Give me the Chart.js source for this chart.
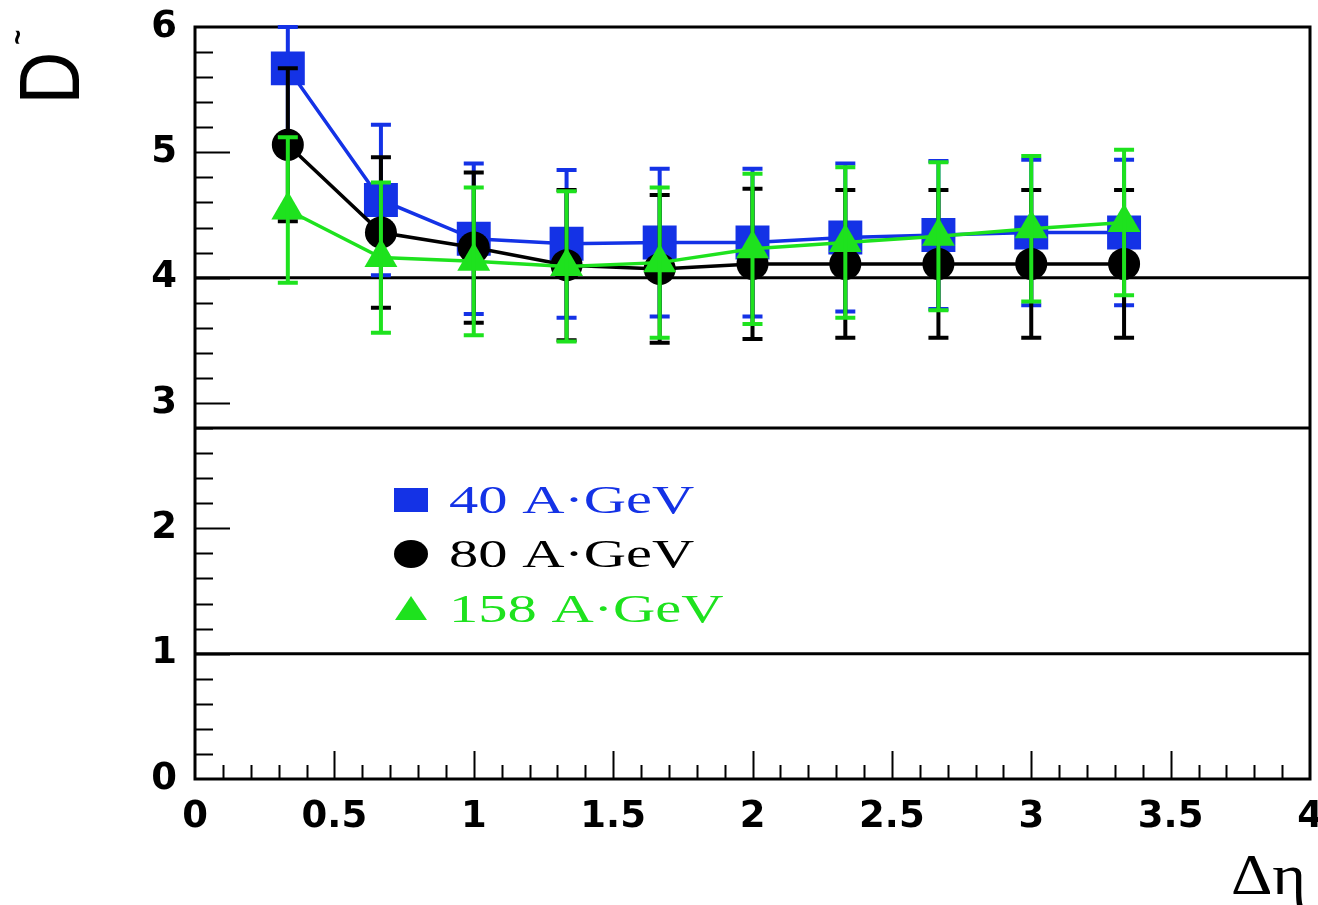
<!DOCTYPE html>
<html>
<head>
<meta charset="utf-8">
<script src="https://cdn.jsdelivr.net/npm/chart.js@4.4.1/dist/chart.umd.min.js"></script>
<style>
  html, body { margin: 0; padding: 0; background: #fff; }
  #wrap { width: 1318px; height: 905px; }
</style>
</head>
<body>
<div id="wrap"><canvas id="dChart" width="1318" height="905"></canvas></div>
<script>
// Δη window centres
const dEta = [0.333, 0.667, 1.0, 1.333, 1.667, 2.0, 2.333, 2.667, 3.0, 3.333];

const energyLabels = ['40 A·GeV', '80 A·GeV', '158 A·GeV'];

// D measure and its errors per energy
const d40    = [5.67, 4.62, 4.31, 4.27, 4.28, 4.28, 4.32, 4.34, 4.36, 4.36];
const err40  = [0.60, 0.60, 0.60, 0.59, 0.59, 0.59, 0.59, 0.59, 0.58, 0.58];
const d80    = [5.06, 4.36, 4.24, 4.10, 4.07, 4.11, 4.11, 4.11, 4.11, 4.11];
const err80  = [0.61, 0.60, 0.60, 0.60, 0.59, 0.60, 0.59, 0.59, 0.59, 0.59];
const d158   = [4.54, 4.16, 4.13, 4.09, 4.12, 4.23, 4.28, 4.33, 4.39, 4.44];
const err158 = [0.58, 0.60, 0.59, 0.60, 0.60, 0.60, 0.60, 0.59, 0.58, 0.58];

// horizontal reference levels
const refLevels = [4, 2.8, 1];

const xTicks = [0, 0.5, 1, 1.5, 2, 2.5, 3, 3.5, 4];
const yTicks = [0, 1, 2, 3, 4, 5, 6];

const BLUE = '#1432e6';
const BLACK = '#000000';
const GREEN = '#1ee21e';

function points(ys) {
  return dEta.map((x, i) => ({ x: x, y: ys[i] }));
}

// inward ticks + frame, ROOT style
const frameTicks = {
  id: 'frameTicks',
  beforeDatasetsDraw(chart) {
    const { ctx, chartArea: a, scales: { x, y } } = chart;
    ctx.save();
    ctx.strokeStyle = BLACK;
    ctx.lineWidth = 2;
    ctx.beginPath();
    for (let i = 1; i < 30; i++) {
      const py = Math.round(y.getPixelForValue(i * 0.2)) + 0.5;
      const len = i % 5 === 0 ? 35 : 18;
      ctx.moveTo(a.left, py);
      ctx.lineTo(a.left + len, py);
    }
    for (let i = 1; i < 40; i++) {
      const px = Math.round(x.getPixelForValue(i * 0.1)) + 0.5;
      const len = i % 5 === 0 ? 28 : 14;
      ctx.moveTo(px, a.bottom);
      ctx.lineTo(px, a.bottom - len);
    }
    ctx.stroke();
    ctx.lineWidth = 3;
    ctx.strokeRect(a.left, a.top, a.right - a.left, a.bottom - a.top);
    ctx.restore();
  }
};

const errorBars = {
  id: 'errorBars',
  afterDatasetDraw(chart, args) {
    const ds = chart.data.datasets[args.index];
    if (!ds.errors) return;
    const { ctx, scales: { x, y } } = chart;
    ctx.save();
    ctx.strokeStyle = ds.borderColor;
    ctx.lineWidth = 4;
    ds.data.forEach((p, i) => {
      const px = x.getPixelForValue(p.x);
      // keep the bar inside the frame
      const hi = Math.min(p.y + ds.errors[i], y.max);
      const lo = Math.max(p.y - ds.errors[i], y.min);
      const top = y.getPixelForValue(hi);
      const bot = y.getPixelForValue(lo);
      ctx.beginPath();
      ctx.moveTo(px, top); ctx.lineTo(px, bot);
      ctx.moveTo(px - 10, top); ctx.lineTo(px + 10, top);
      ctx.moveTo(px - 10, bot); ctx.lineTo(px + 10, bot);
      ctx.stroke();
    });
    ctx.restore();
  }
};

const legendAndTitles = {
  id: 'legendAndTitles',
  afterDraw(chart) {
    const ctx = chart.ctx;
    const series = chart.data.datasets.filter(d => d.errors);
    const rowY = [513, 567, 622];
    series.forEach((ds, i) => {
      const base = rowY[i];
      ctx.save();
      ctx.fillStyle = ds.borderColor;
      const cx = 411, cy = base - 13;
      ctx.beginPath();
      if (ds.pointStyle === 'rect') {
        ctx.rect(cx - 17, cy - 12, 34, 24);
      } else if (ds.pointStyle === 'circle') {
        ctx.ellipse(cx, cy, 17, 14, 0, 0, Math.PI * 2);
      } else {
        ctx.moveTo(cx, cy - 13);
        ctx.lineTo(cx + 16, cy + 11);
        ctx.lineTo(cx - 16, cy + 11);
        ctx.closePath();
      }
      ctx.fill();
      ctx.translate(449, base);
      ctx.scale(1.5, 1);
      ctx.font = '39px "Liberation Serif", "Times New Roman", serif';
      ctx.textAlign = 'left';
      ctx.textBaseline = 'alphabetic';
      ctx.fillText(ds.label, 0, 0);
      ctx.restore();
    });

    // x title
    ctx.save();
    ctx.fillStyle = BLACK;
    ctx.translate(1306, 894);
    ctx.scale(1.15, 1);
    ctx.font = '56px "Liberation Serif", "Times New Roman", serif';
    ctx.textAlign = 'right';
    ctx.textBaseline = 'alphabetic';
    ctx.fillText('Δη', 0, 0);
    ctx.restore();

    // y title, rotated
    ctx.save();
    ctx.fillStyle = BLACK;
    ctx.translate(48, 78);
    ctx.rotate(-Math.PI / 2);
    ctx.scale(0.85, 1);
    ctx.font = '86px "Liberation Sans", Arial, sans-serif';
    ctx.textAlign = 'center';
    ctx.textBaseline = 'alphabetic';
    ctx.fillText('D', 0, 31);
    ctx.font = 'bold 30px "Liberation Sans", Arial, sans-serif';
    ctx.fillText('~', 48, -20);
    ctx.restore();
  }
};

const seriesDatasets = [
  {
    label: energyLabels[0], data: points(d40), errors: err40,
    borderColor: BLUE, backgroundColor: BLUE, pointStyle: 'rect',
    pointRadius: 24, order: 3
  },
  {
    label: energyLabels[1], data: points(d80), errors: err80,
    borderColor: BLACK, backgroundColor: BLACK, pointStyle: 'circle',
    pointRadius: 16, order: 2
  },
  {
    label: energyLabels[2], data: points(d158), errors: err158,
    borderColor: GREEN, backgroundColor: GREEN, pointStyle: 'triangle',
    pointRadius: 19, order: 1
  }
].map(d => Object.assign({ showLine: true, borderWidth: 3.5, pointBorderWidth: 0, pointHoverRadius: d.pointRadius }, d));

const refDatasets = refLevels.map(v => ({
  label: 'D = ' + v,
  data: [{ x: 0, y: v }, { x: 4, y: v }],
  showLine: true, borderColor: BLACK, borderWidth: 3,
  pointRadius: 0, order: 10
}));

new Chart(document.getElementById('dChart'), {
  type: 'scatter',
  data: { datasets: seriesDatasets.concat(refDatasets) },
  options: {
    responsive: false,
    animation: false,
    layout: { autoPadding: false, padding: { top: 27, right: 8, left: 0, bottom: 0 } },
    plugins: { legend: { display: false }, tooltip: { enabled: false } },
    scales: {
      x: {
        type: 'linear', min: 0, max: 4,
        grid: { display: false, drawTicks: false },
        border: { display: false },
        afterBuildTicks: s => { s.ticks = xTicks.map(v => ({ value: v })); },
        afterFit: s => { s.height = 126; s.paddingLeft = 0; s.paddingRight = 0; },
        ticks: {
          color: BLACK, padding: 16, autoSkip: false, maxRotation: 0,
          font: { family: '"DejaVu Sans"', weight: 'bold', size: 37 },
          callback: v => String(v)
        }
      },
      y: {
        type: 'linear', min: 0, max: 6,
        grid: { display: false, drawTicks: false },
        border: { display: false },
        afterBuildTicks: s => { s.ticks = yTicks.map(v => ({ value: v })); },
        afterFit: s => { s.width = 195; s.paddingTop = 0; s.paddingBottom = 0; },
        ticks: {
          color: BLACK, padding: 18,
          font: { family: '"DejaVu Sans"', weight: 'bold', size: 37 },
          callback: v => String(v)
        }
      }
    }
  },
  plugins: [frameTicks, errorBars, legendAndTitles]
});
</script>
</body>
</html>
